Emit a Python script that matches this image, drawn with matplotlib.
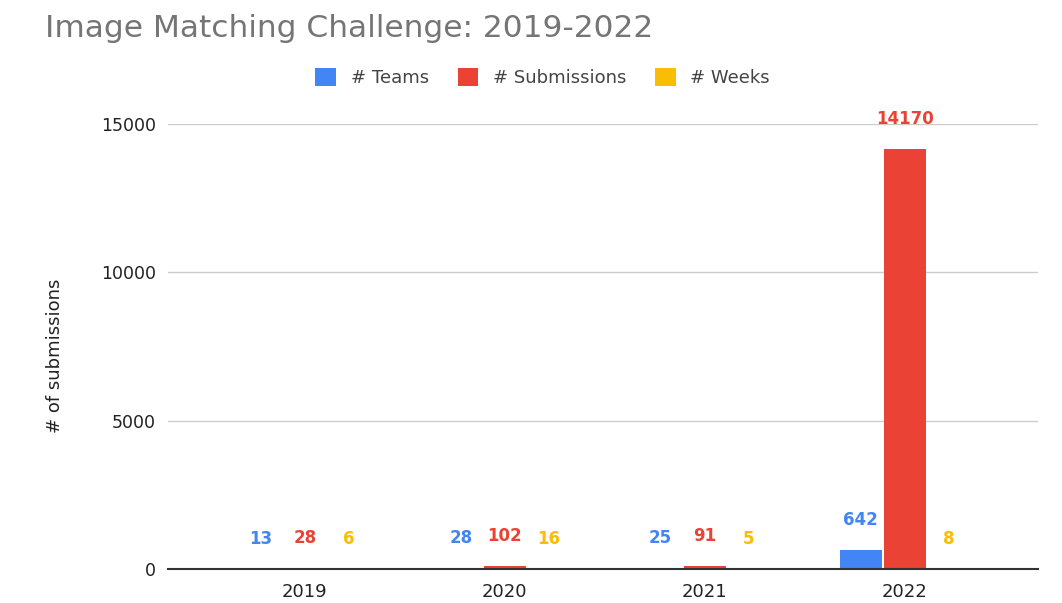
import numpy as np
import matplotlib.pyplot as plt

plt.rcParams['font.family'] = ['DejaVu Sans']

# data
years = ['2019', '2020', '2021', '2022']
teams = [13, 28, 25, 642]
submissions = [28, 102, 91, 14170]
weeks = [6, 16, 5, 8]

series = [('# Teams', teams, '#4285F4'),
          ('# Submissions', submissions, '#EA4335'),
          ('# Weeks', weeks, '#FBBC04')]

fig = plt.figure(figsize=(10.62, 6.03), dpi=100)
ax = fig.add_axes([0.158, 0.0564, 0.819, 0.7378])

x = np.arange(len(years))
step = 0.22
width = 0.21
for i, (name, vals, col) in enumerate(series):
    pos = x + (i - 1) * step
    bars = ax.bar(pos, vals, width, color=col, label=name, zorder=3)
    for b, v in zip(bars, vals):
        ax.annotate(str(v), (b.get_x() + b.get_width() / 2, v),
                    xytext=(0, 15), textcoords='offset points',
                    ha='center', va='bottom', color=col,
                    fontsize=12, fontweight='bold', annotation_clip=False)

ax.set_xlim(-0.685, 3.665)
ax.set_ylim(0, 15000)
ax.set_yticks([0, 5000, 10000, 15000])
ax.set_xticks(x)
ax.set_xticklabels(years)
ax.tick_params(axis='y', length=0, labelsize=12.5, colors='#222222', pad=8.5)
ax.tick_params(axis='x', length=0, labelsize=13, colors='#222222', pad=10)
ax.grid(axis='y', color='#cccccc', linewidth=1, zorder=0)
for s in ['top', 'right', 'left']:
    ax.spines[s].set_visible(False)
ax.spines['bottom'].set_color('#333333')
ax.spines['bottom'].set_linewidth(1.5)
ax.spines['bottom'].set_zorder(4)

ax.set_ylabel('# of submissions', fontsize=13, color='#222222')
ax.yaxis.set_label_coords(-0.119, 0.479)

fig.text(0.042, 0.9386, 'Image Matching Challenge: 2019-2022', fontsize=22.5,
         color='#757575', ha='left', va='baseline')

fig.legend(loc='center', bbox_to_anchor=(0.511, 0.871), ncol=3, frameon=False,
           fontsize=13, handlelength=1.15, handleheight=1.15, columnspacing=1.6,
           handletextpad=0.8, labelcolor='#444444')

fig.savefig('out.png', dpi=100)
